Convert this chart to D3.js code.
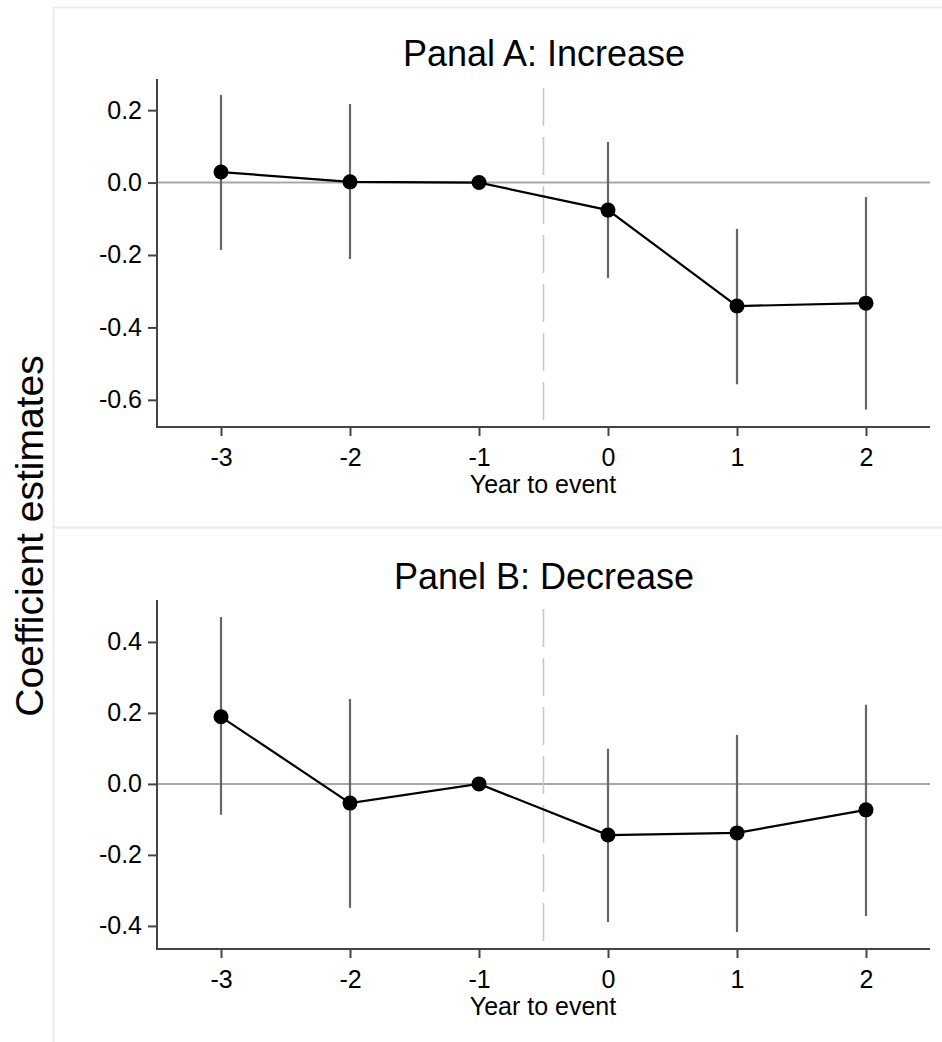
<!DOCTYPE html>
<html>
<head>
<meta charset="utf-8">
<script src="https://cdn.jsdelivr.net/npm/d3@7"></script>
<style>
  html, body { margin: 0; padding: 0; background: #fff; }
  svg { display: block; font-family: "Liberation Sans", Arial, sans-serif; }
</style>
</head>
<body>
<svg id="chart" width="942" height="1042"></svg>
<script>
// ---- Data ----
const years = [-3, -2, -1, 0, 1, 2];
const xTicks = [-3, -2, -1, 0, 1, 2];

const titleA = "Panal A: Increase";
const coefA  = [0.029, 0.002, 0.000, -0.076, -0.341, -0.333];
const lowerA = [-0.186, -0.211, 0.000, -0.264, -0.557, -0.627];
const upperA = [0.242, 0.217, 0.000, 0.112, -0.128, -0.040];
const yTicksA = [0.2, 0.0, -0.2, -0.4, -0.6];
const yDomainA = [-0.675, 0.286];

const titleB = "Panel B: Decrease";
const coefB  = [0.189, -0.054, 0.000, -0.144, -0.138, -0.073];
const lowerB = [-0.087, -0.349, 0.000, -0.389, -0.417, -0.372];
const upperB = [0.470, 0.239, 0.000, 0.099, 0.138, 0.223];
const yTicksB = [0.4, 0.2, 0.0, -0.2, -0.4];
const yDomainB = [-0.465, 0.518];

const eventLine = -0.5;
const xLabel = "Year to event";
const yLabel = "Coefficient estimates";

// ---- Drawing ----
const svg = d3.select("#chart");

// panel frames
svg.append("rect").attr("x", 53.5).attr("y", 7.5).attr("width", 900).attr("height", 520)
  .attr("fill", "none").attr("stroke", "#ececec").attr("stroke-width", 2);
svg.append("rect").attr("x", 53.5).attr("y", 527.5).attr("width", 900).attr("height", 530)
  .attr("fill", "none").attr("stroke", "#ececec").attr("stroke-width", 2);

const x = d3.scaleLinear().domain([-3, 2]).range([221, 866]);
const FONT = "Liberation Sans, Arial, sans-serif";

function panel(cfg) {
  const y = d3.scaleLinear().domain(cfg.yDomain).range([cfg.bottom, cfg.top]);
  const g = svg.append("g");

  // title
  g.append("text").attr("x", 544).attr("y", cfg.titleY)
    .attr("text-anchor", "middle").attr("font-size", 36).attr("fill", "#000")
    .text(cfg.title);

  // zero line
  g.append("line").attr("x1", 157).attr("x2", 930)
    .attr("y1", y(0)).attr("y2", y(0))
    .attr("stroke", "#a8a8a8").attr("stroke-width", 2);

  // event dashed line
  g.append("line").attr("x1", x(eventLine)).attr("x2", x(eventLine))
    .attr("y1", cfg.top + 9).attr("y2", cfg.bottom)
    .attr("stroke", "#c8c8c8").attr("stroke-width", 1.6)
    .attr("stroke-dasharray", "38,11");

  // y axis
  const yAxis = d3.axisLeft(y).tickValues(cfg.yTicks).tickFormat(d3.format(".1f"))
    .tickSize(9).tickPadding(6);
  const ya = g.append("g").attr("transform", "translate(157,0)").call(yAxis);
  ya.select(".domain").attr("d", `M0,${cfg.top}V${cfg.bottom}`).attr("stroke", "#444").attr("stroke-width", 2);
  ya.selectAll(".tick line").attr("stroke", "#444").attr("stroke-width", 2);
  ya.selectAll(".tick text").attr("font-size", 25).attr("fill", "#000")
    .attr("font-family", FONT)
    .text(d => d3.format(".1f")(d).replace("−", "-"));

  // x axis
  const xAxis = d3.axisBottom(x).tickValues(xTicks).tickFormat(d => String(d))
    .tickSize(9).tickPadding(12);
  const xa = g.append("g").attr("transform", `translate(0,${cfg.bottom})`).call(xAxis);
  xa.select(".domain").attr("d", "M156,0H930").attr("stroke", "#444").attr("stroke-width", 2);
  xa.selectAll(".tick line").attr("stroke", "#444").attr("stroke-width", 2);
  xa.selectAll(".tick text").attr("font-size", 25).attr("fill", "#000")
    .attr("font-family", FONT);

  g.append("text").attr("x", 543).attr("y", cfg.bottom + 66)
    .attr("text-anchor", "middle").attr("font-size", 25).attr("fill", "#000")
    .text(xLabel);

  // CIs
  g.selectAll(".ci").data(years.map((yr, i) => ({yr, lo: cfg.lower[i], hi: cfg.upper[i]})))
    .enter().append("line")
    .attr("x1", d => x(d.yr)).attr("x2", d => x(d.yr))
    .attr("y1", d => y(d.lo)).attr("y2", d => y(d.hi))
    .attr("stroke", "#666").attr("stroke-width", 2.2);

  // connecting line
  const pts = years.map((yr, i) => ({yr, v: cfg.coef[i]}));
  g.append("path").datum(pts)
    .attr("d", d3.line().x(d => x(d.yr)).y(d => y(d.v)))
    .attr("fill", "none").attr("stroke", "#000").attr("stroke-width", 2.2);

  g.selectAll(".pt").data(pts).enter().append("circle")
    .attr("cx", d => x(d.yr)).attr("cy", d => y(d.v)).attr("r", 7.5)
    .attr("fill", "#000");
}

panel({title: titleA, titleY: 66, top: 79, bottom: 427, yDomain: yDomainA, yTicks: yTicksA,
       coef: coefA, lower: lowerA, upper: upperA});
panel({title: titleB, titleY: 589, top: 600, bottom: 949, yDomain: yDomainB, yTicks: yTicksB,
       coef: coefB, lower: lowerB, upper: upperB});

// shared y label
svg.append("text")
  .attr("transform", "translate(43,536) rotate(-90)")
  .attr("text-anchor", "middle").attr("font-size", 39).attr("fill", "#000")
  .text(yLabel);
</script>
</body>
</html>
